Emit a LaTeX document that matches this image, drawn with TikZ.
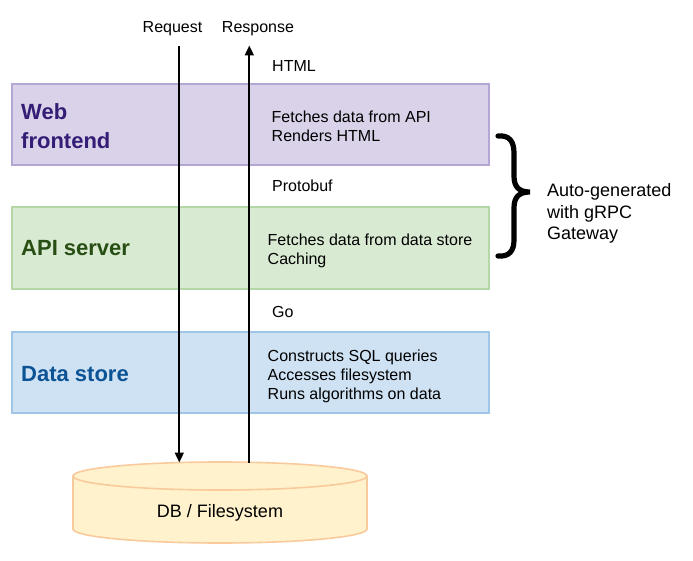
\documentclass[tikz,border=0pt]{standalone}
\usepackage{fontspec}
\setmainfont{Liberation Sans}
\usetikzlibrary{arrows.meta}
\definecolor{webfill}{HTML}{D9D2E9}
\definecolor{webline}{HTML}{B4A7D6}
\definecolor{webtext}{HTML}{351C75}
\definecolor{apifill}{HTML}{D9EAD3}
\definecolor{apiline}{HTML}{B6D7A8}
\definecolor{apitext}{HTML}{274E13}
\definecolor{dsfill}{HTML}{CFE2F3}
\definecolor{dsline}{HTML}{9FC5E8}
\definecolor{dstext}{HTML}{0B5394}
\definecolor{dbfill}{HTML}{FFF2CC}
\definecolor{dbline}{HTML}{F9CB9C}
\begin{document}
\begin{tikzpicture}[x=1pt,y=-1pt,
  layer/.style={draw, line width=1.6pt, rectangle, minimum width=477pt, minimum height=81pt, inner sep=0pt},
  small/.style={anchor=base west, inner sep=0pt, font=\fontsize{16}{19}\selectfont, align=left},
  big/.style={anchor=base west, inner sep=0pt, font=\fontsize{22}{29}\selectfont\bfseries, align=left},
  flow/.style={line width=1.8pt, -{Triangle[length=10pt,width=9pt]}}]
\useasboundingbox (0,0) rectangle (693,561);
\fill[white] (0,0) rectangle (693,561);
% layers
\node[layer, fill=webfill, draw=webline] (web) at (250.5,124.5) {};
\node[layer, fill=apifill, draw=apiline, minimum height=82pt] (api) at (250.5,248) {};
\node[layer, fill=dsfill, draw=dsline] (ds) at (250.5,372.5) {};
% database cylinder
\filldraw[fill=dbfill, draw=dbline, line width=1.6pt]
  (73,476) -- (73,529) arc[start angle=180, end angle=0, x radius=147, y radius=14]
  -- (367,476) arc[start angle=0, end angle=-180, x radius=147, y radius=14] -- cycle;
\draw[dbline, line width=1.6pt] (73,476) arc[start angle=180, end angle=0, x radius=147, y radius=14];
\node[anchor=base, inner sep=0pt, font=\fontsize{18}{22}\selectfont] (db) at (220,517) {DB / Filesystem};
% layer titles
\node[big, text=webtext] (webt) at (21,119.5) {Web};
\node[big, text=webtext] (webt2) at (21,149) {frontend};
\node[big, text=apitext] (apit) at (21,256) {API server};
\node[big, text=dstext] (dst) at (21,381) {Data store};
% layer descriptions
\node[small] (webd1) at (271.5,123) {Fetches data from API};
\node[small] (webd2) at (271.5,142) {Renders HTML};
\node[small] (apid1) at (267.5,246) {Fetches data from data store};
\node[small] (apid2) at (267.5,264.5) {Caching};
\node[small] (dsd1) at (267.5,361) {Constructs SQL queries};
\node[small] (dsd2) at (267.5,380) {Accesses filesystem};
\node[small] (dsd3) at (267.5,399) {Runs algorithms on data};
% protocol labels
\node[small] (html) at (272,72) {HTML};
\node[small] (proto) at (272,191.5) {Protobuf};
\node[small] (go) at (272,317) {Go};
% request / response
\node[anchor=base, inner sep=0pt, font=\fontsize{16}{19}\selectfont] (req) at (172.5,33) {Request};
\node[anchor=base, inner sep=0pt, font=\fontsize{16}{19}\selectfont] (resp) at (258,33) {Response};
\coordinate (reqtop) at (179.3,46.5);
\coordinate (dbreq) at (179.3,462.5);
\coordinate (resptop) at (249.3,45.5);
\coordinate (dbresp) at (249.3,462.5);
\draw[flow] (reqtop) -- (dbreq);
\draw[flow] (dbresp) -- (resptop);
% brace
\draw[line width=5.2pt, line cap=round]
  (498,136) .. controls (509,135) and (514,141) .. (514,153) -- (514,176)
  .. controls (514,187) and (519,192) .. (530,192)
  .. controls (519,192) and (514,197) .. (514,208) -- (514,240)
  .. controls (514,251) and (509,257) .. (498,256);
\node[anchor=base west, inner sep=0pt, font=\fontsize{18}{22}\selectfont] (auto1) at (547,197) {Auto-generated};
\node[anchor=base west, inner sep=0pt, font=\fontsize{18}{22}\selectfont] (auto2) at (547,218.5) {with gRPC};
\node[anchor=base west, inner sep=0pt, font=\fontsize{18}{22}\selectfont] (auto3) at (547,240) {Gateway};
\end{tikzpicture}
\end{document}
